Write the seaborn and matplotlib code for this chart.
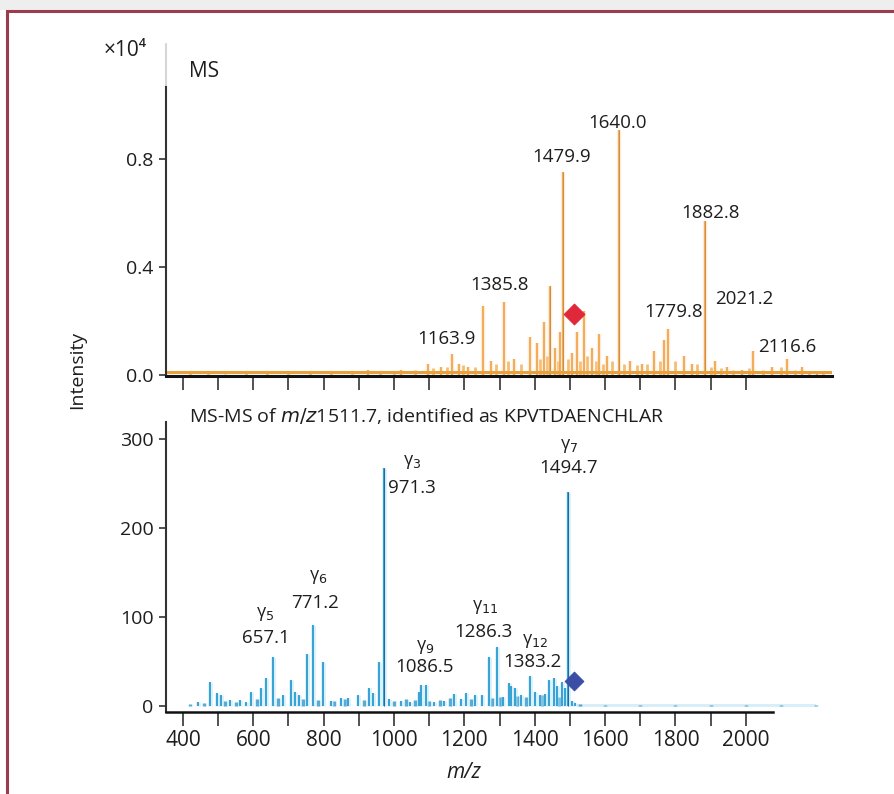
import matplotlib
matplotlib.use("Agg")
import matplotlib.pyplot as plt
import seaborn as sns
import pandas as pd
from matplotlib.patches import Rectangle

# ---- MS spectrum (top), intensity in units of 1e4 ----
ms_mz = [927, 1021, 1098, 1135, 1163.9, 1186, 1209, 1252, 1277, 1312, 1340, 1385.8,
         1406, 1426, 1443, 1457, 1471, 1479.9, 1505, 1520, 1540, 1562, 1582, 1605,
         1640.0, 1671, 1705, 1739, 1767, 1779.8, 1825, 1847, 1882.8, 1913, 1947,
         1990, 2021.2, 2075, 2116.6, 2161, 2203]
ms_int = [0.02, 0.02, 0.04, 0.03, 0.078, 0.04, 0.03, 0.255, 0.05, 0.27, 0.06, 0.14,
          0.12, 0.195, 0.33, 0.10, 0.16, 0.75, 0.08, 0.16, 0.235, 0.10, 0.15, 0.07,
          0.907, 0.05, 0.04, 0.09, 0.13, 0.17, 0.07, 0.04, 0.568, 0.05, 0.03,
          0.02, 0.09, 0.03, 0.06, 0.03, 0.015]
ms_noise_mz = [420, 470, 520, 580, 640, 700, 760, 820, 880, 960, 1000, 1060, 1110,
               1150, 1195, 1230, 1290, 1325, 1360, 1415, 1435, 1465, 1495, 1530,
               1550, 1575, 1595, 1620, 1655, 1690, 1720, 1755, 1800, 1860, 1900,
               1930, 1965, 2010, 2050, 2100, 2140, 2180, 2220]
ms_noise_int = [0.008, 0.006, 0.005, 0.006, 0.007, 0.006, 0.008, 0.007, 0.010, 0.012,
                0.015, 0.018, 0.025, 0.03, 0.035, 0.03, 0.04, 0.05, 0.04, 0.06,
                0.07, 0.05, 0.06, 0.05, 0.07, 0.05, 0.04, 0.05, 0.04, 0.035, 0.04,
                0.05, 0.05, 0.04, 0.03, 0.025, 0.02, 0.025, 0.02, 0.03, 0.02, 0.015,
                0.01]
ms_labels = ["1640.0", "1479.9", "1882.8", "1385.8", "1163.9", "1779.8", "2021.2", "2116.6"]
ms_label_x = [1636, 1477, 1899, 1300, 1149, 1796, 1995, 2118]
ms_label_y = [0.934, 0.808, 0.601, 0.332, 0.133, 0.232, 0.28, 0.103]
precursor_mz = 1511.7
precursor_ms = 0.225

# ---- MS-MS spectrum (bottom) ----
msms_mz = [443, 477, 497, 508, 534, 562, 579, 594, 622, 636, 656, 685, 708, 719, 730,
           753, 770, 799, 820, 850, 870, 899, 930, 941, 956, 971.3, 987, 1021, 1045,
           1072, 1078, 1092, 1115, 1141, 1172, 1190, 1206, 1229, 1249, 1269, 1292,
           1310, 1326, 1334, 1343, 1360, 1386, 1400, 1414, 1428, 1440, 1454, 1463,
           1477, 1485, 1494.7, 1505, 1515]
msms_int = [4, 27, 15, 12, 7, 7, 5, 16, 20, 31, 55, 12, 29, 16, 12,
            58, 91, 49, 6, 9, 9, 12, 20, 15, 49, 267, 8, 6, 5,
            16, 24, 24, 5, 6, 14, 8, 15, 12, 12, 55, 66,
            10, 26, 22, 20, 12, 34, 16, 12, 14, 29, 31, 22,
            27, 20, 240, 6, 3]
msms_noise_mz = [420, 460, 520, 550, 610, 670, 740, 785, 830, 860, 915, 1000, 1035,
                 1060, 1100, 1130, 1160, 1220, 1280, 1300, 1350, 1375, 1420, 1470,
                 1530, 1600, 1700, 1800, 1900, 2000, 2100, 2200]
msms_noise_int = [2, 3, 6, 5, 8, 9, 8, 7, 6, 8, 7, 6, 8, 7, 6, 7, 9, 8, 9, 10, 11, 10,
                  12, 10, 2, 1.5, 1.5, 1.5, 1.5, 1.5, 1.5, 1.5]
ion_names = ["γ$_{3}$", "γ$_{7}$", "γ$_{6}$", "γ$_{5}$", "γ$_{9}$", "γ$_{11}$", "γ$_{12}$"]
ion_values = ["971.3", "1494.7", "771.2", "657.1", "1086.5", "1286.3", "1383.2"]
ion_name_x = [1052, 1497, 785, 634, 1089, 1258, 1400]
ion_name_y = [274, 292, 145, 103, 66, 111, 73]
ion_value_x = [1052, 1497, 776, 636, 1087, 1255, 1394]
ion_value_y = [245, 267, 116, 76, 44, 83, 49]
precursor_msms = 28

xticks = list(range(400, 2100, 100))
xtick_labels = [str(t) if t % 200 == 0 else "" for t in xticks]

sns.set_theme(style="ticks")
plt.rcParams["font.family"] = ["Open Sans", "DejaVu Sans"]
plt.rcParams["mathtext.fontset"] = "dejavusans"

W, H = 895, 794
fig = plt.figure(figsize=(W / 100, H / 100), dpi=100)
ax1 = fig.add_axes([166 / W, 1 - 376 / H, 666 / W, 332 / H])
ax2 = fig.add_axes([166 / W, 1 - 712 / H, 666 / W, 290 / H])

dark = "#333333"
txt = "#1e1e1e"
xlim = (352, 2245)

# frame around the figure
fig.patches.append(Rectangle((0, 1 - 10 / H), 1, 10 / H, transform=fig.transFigure,
                             facecolor="#eeeeee", edgecolor="none", zorder=0))
fig.patches.append(Rectangle((7 / W, -0.02), 1.0, 1 - 11 / H + 0.02, transform=fig.transFigure,
                             fill=False, edgecolor="#9c3b4d", lw=2.2, zorder=0))

# ---- top panel ----
ms = pd.DataFrame({"mz": ms_mz, "intensity": ms_int})
noise = pd.DataFrame({"mz": ms_noise_mz, "intensity": ms_noise_int})
ax1.vlines(noise["mz"], 0, noise["intensity"], color="#f2a33a", lw=2.0, alpha=0.7)
ax1.vlines(ms["mz"], 0, ms["intensity"], color="#fad9ae", lw=3.2, alpha=0.45)
ax1.vlines(ms["mz"], 0, ms["intensity"], color="#f0a043", lw=1.2)
big = ms[ms["intensity"] > 0.3]
ax1.vlines(big["mz"], 0, big["intensity"], color="#c0813c", lw=0.5)
sns.scatterplot(x=[precursor_mz], y=[precursor_ms], marker="D", s=110,
                color="#e0283a", edgecolor="#e0283a", ax=ax1, zorder=5)
ax1.axhline(0.011, color="#e8a13f", lw=2.2, zorder=2)
for lab, x, y in zip(ms_labels, ms_label_x, ms_label_y):
    ax1.text(x, y, lab, ha="center", va="center", fontsize=13.5, color=txt)
ax1.text(417, 1.122, "MS", ha="left", va="center", fontsize=15, color=txt)

ax1.set_xlim(*xlim)
ax1.set_ylim(-0.004, 1.225)
ax1.set_yticks([0.0, 0.4, 0.8])
ax1.set_yticklabels(["0.0", "0.4", "0.8"])
ax1.set_xticks(xticks)
ax1.set_xticklabels([])
for s in ["top", "right"]:
    ax1.spines[s].set_visible(False)
ax1.spines["left"].set_bounds(-0.004, 1.066)
ax1.plot([xlim[0], xlim[0]], [1.066, 1.225], color="#d6d6d6", lw=1.5, clip_on=False)
ax1.spines["left"].set_color(dark)
ax1.spines["left"].set_linewidth(1.5)
ax1.spines["bottom"].set_color("#111111")
ax1.spines["bottom"].set_linewidth(2.2)
ax1.spines["bottom"].set_zorder(3)
ax1.tick_params(axis="x", direction="out", length=10, width=1.2, color=dark)
ax1.tick_params(axis="y", direction="out", length=5, width=1.2, color=dark,
                labelsize=14, labelcolor=txt, pad=4)

# ---- bottom panel ----
msms = pd.DataFrame({"mz": msms_mz, "intensity": msms_int})
mnoise = pd.DataFrame({"mz": msms_noise_mz, "intensity": msms_noise_int})
ax2.fill_between([1520, 2200], -1, 2, color="#d8eef8", lw=0)
ax2.vlines(mnoise["mz"], 0, mnoise["intensity"], color="#1f8fc8", lw=2.5, alpha=0.75)
ax2.vlines(msms["mz"], 0, msms["intensity"], color="#b3e2f5", lw=3.4, alpha=0.5)
ax2.vlines(msms["mz"], 0, msms["intensity"], color="#2a9bd3", lw=1.3)
bigb = msms[msms["intensity"] > 100]
ax2.vlines(bigb["mz"], 0, bigb["intensity"], color="#1a6f9e", lw=0.8)
sns.scatterplot(x=[precursor_mz], y=[precursor_msms], marker="D", s=90,
                color="#3a4ea6", edgecolor="#3a4ea6", ax=ax2, zorder=5)
for nm, val, nx, ny, vx, vy in zip(ion_names, ion_values, ion_name_x, ion_name_y,
                                   ion_value_x, ion_value_y):
    ax2.text(nx, ny, nm, ha="center", va="center", fontsize=13, color=txt)
    ax2.text(vx, vy, val, ha="center", va="center", fontsize=13.5, color=txt)
ax2.text(417, 326, "MS-MS of $\\it{m/z}$1511.7, identified as KPVTDAENCHLAR",
         ha="left", va="center", fontsize=14, color=txt)

ax2.set_xlim(*xlim)
ax2.set_ylim(-6.7, 319)
ax2.set_yticks([0, 100, 200, 300])
ax2.set_xticks(xticks)
ax2.set_xticklabels(xtick_labels)
for s in ["top", "right"]:
    ax2.spines[s].set_visible(False)
ax2.spines["bottom"].set_bounds(xlim[0], 2077)
ax2.spines["left"].set_color(dark)
ax2.spines["left"].set_linewidth(1.5)
ax2.spines["bottom"].set_color("#111111")
ax2.spines["bottom"].set_linewidth(1.8)
ax2.tick_params(axis="x", direction="out", length=10, width=1.2, color=dark,
                labelsize=15, labelcolor=txt, pad=3)
ax2.tick_params(axis="y", direction="out", length=5, width=1.2, color=dark,
                labelsize=14, labelcolor=txt, pad=4)

fig.text(77 / W, 1 - 370 / H, "Intensity", rotation=90, ha="center", va="center",
         fontsize=14, color=txt)
fig.text(464 / W, 1 - 773 / H, "m/z", style="italic", ha="center", va="center",
         fontsize=15, color=txt)
fig.text(125 / W, 1 - 50 / H, "×10⁴", ha="center", va="center", fontsize=15,
         color=txt)

fig.savefig("out.png", dpi=100)
